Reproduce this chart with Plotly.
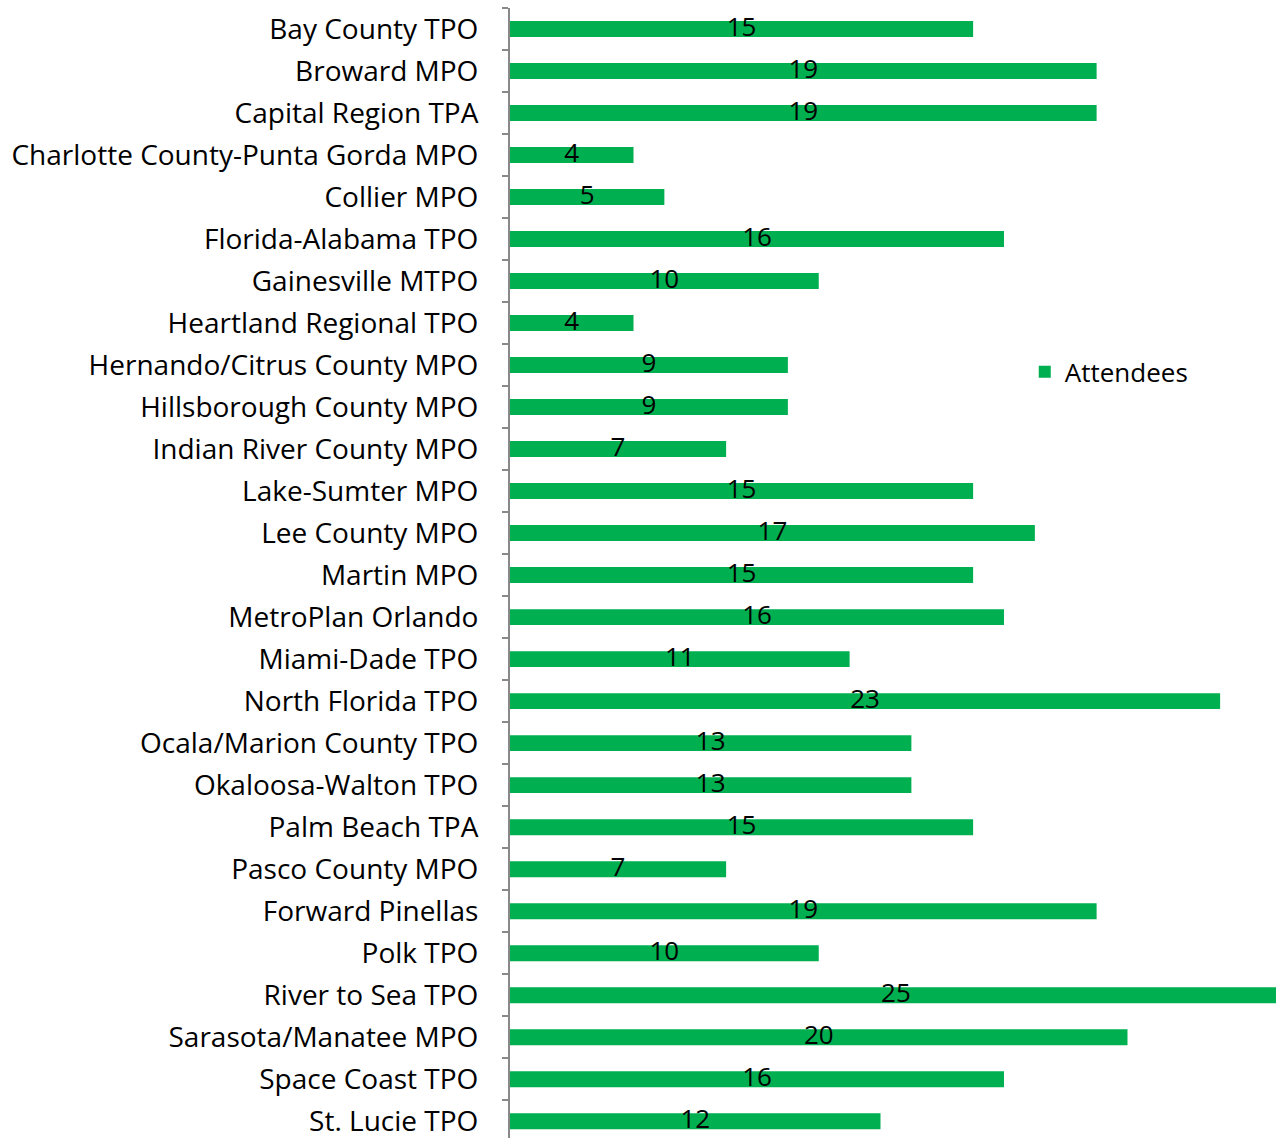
import plotly.graph_objects as go

categories = [
    "Bay County TPO", "Broward MPO", "Capital Region TPA",
    "Charlotte County-Punta Gorda MPO", "Collier MPO", "Florida-Alabama TPO",
    "Gainesville MTPO", "Heartland Regional TPO", "Hernando/Citrus County MPO",
    "Hillsborough County MPO", "Indian River County MPO", "Lake-Sumter MPO",
    "Lee County MPO", "Martin MPO", "MetroPlan Orlando", "Miami-Dade TPO",
    "North Florida TPO", "Ocala/Marion County TPO", "Okaloosa-Walton TPO",
    "Palm Beach TPA", "Pasco County MPO", "Forward Pinellas", "Polk TPO",
    "River to Sea TPO", "Sarasota/Manatee MPO", "Space Coast TPO", "St. Lucie TPO",
]
attendees = [15, 19, 19, 4, 5, 16, 10, 4, 9, 9, 7, 15, 17, 15, 16, 11, 23,
             13, 13, 15, 7, 19, 10, 25, 20, 16, 12]
series_name = "Attendees"

FONT = "Open Sans"
GREEN = "#00B050"
GRAY = "#898989"

fig = go.Figure()
fig.add_trace(go.Bar(
    y=categories, x=attendees, orientation="h", name=series_name,
    marker=dict(color=GREEN, line=dict(width=0)),
))
fig.add_trace(go.Scatter(
    y=categories, x=[v / 2 for v in attendees], mode="text",
    text=[str(v) for v in attendees], textposition="middle center",
    textfont=dict(family=FONT, size=26, color="#000000"),
    showlegend=False, hoverinfo="skip", cliponaxis=False,
))

fig.update_layout(
    width=1276, height=1138,
    margin=dict(l=510, r=0, t=8, b=0),
    paper_bgcolor="white", plot_bgcolor="white",
    bargap=0.62,
    font=dict(family=FONT, size=28, color="#000000"),
    legend=dict(x=0.672, y=0.678, xanchor="left", yanchor="middle",
                font=dict(family=FONT, size=26, color="#000000"),
                bgcolor="rgba(0,0,0,0)"),
    xaxis=dict(range=[0, 24.81], showgrid=False, zeroline=False,
               showline=False, showticklabels=False, ticks="", fixedrange=True),
    yaxis=dict(type="category", categoryorder="array", categoryarray=categories,
               range=[26.4, -0.5], showgrid=False, zeroline=False,
               showline=True, linecolor=GRAY, linewidth=2,
               ticks="outside", ticklen=6, tickwidth=2, tickcolor=GRAY,
               tickson="boundaries", ticklabelstandoff=24,
               tickfont=dict(family=FONT, size=28, color="#000000")),
)

fig.write_html(
    "out.html",
    config={"displayModeBar": False},
    post_script="document.body.style.margin='0';document.body.style.overflow='hidden';",
)
